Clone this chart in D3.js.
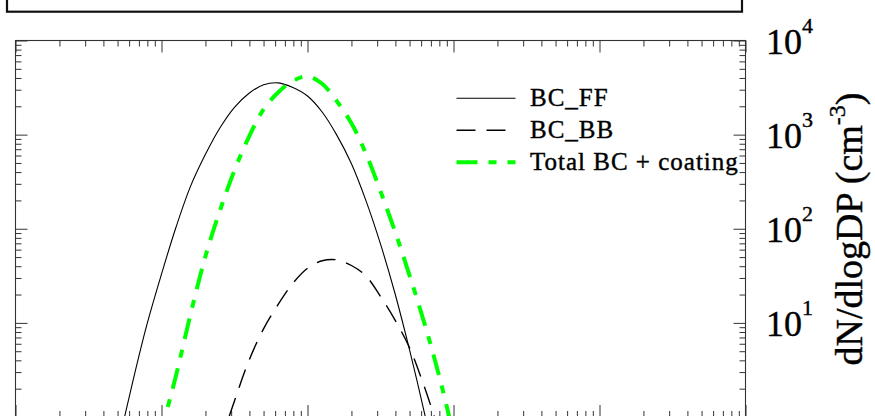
<!DOCTYPE html>
<html>
<head>
<meta charset="utf-8">
<script src="https://cdn.jsdelivr.net/npm/d3@7"></script>
<style>
  html, body { margin: 0; padding: 0; background: #fff; }
  svg { display: block; }
  text { font-family: "Liberation Serif", "Times New Roman", serif; fill: #000; stroke: #000; stroke-width: 0.4px; }
</style>
</head>
<body>
<svg id="chart" width="875" height="416"></svg>
<script>
// Particle diameter bins (nm), log-spaced
const diameters = [5.0, 6.3, 7.9, 10, 12.6, 15.8, 20, 25.1, 31.6, 39.8, 50.1, 63.1,
                   79.4, 100, 126, 158, 200, 251, 316, 398, 501, 631, 794, 1000];

// Number size distributions, dN/dlogDp (cm^-3)
const bcFF    = [0.47, 2.24, 9.3, 33, 105, 282, 617, 1175, 1950, 2754, 3388, 3548,
                 3162, 2570, 1738, 1000, 490, 200, 69, 20.4, 5.1, 1.12, 0.21, null];
const bcBB    = [null, null, null, null, null, null, null, 0.51, 1.48, 4.0, 8.7, 15.8,
                 26.3, 38, 45.7, 46.8, 40.7, 31.6, 19.1, 10.7, 5.4, 2.1, 0.72, null];
const totalBC = [null, null, 0.18, 0.72, 2.8, 12.3, 51, 155, 417, 955, 1862, 2818,
                 3715, 4169, 3467, 2291, 1318, 631, 251, 93, 31.6, 10, 2.8, 0.65];

const seriesNames = ["BC_FF", "BC_BB", "Total BC + coating"];
const yLabelValues = [10, 100, 1000, 10000];

const svg = d3.select("#chart");
const frame = { left: 15.5, right: 745.5, top: 40.5, bottom: 417 };

const x = d3.scaleLog().domain([1, 1e5]).range([frame.left, frame.right]);
const y = d3.scaleLog().domain([1, 1e4]).range([frame.bottom, frame.top]);

// major / minor tick positions on the log axes
function logTicks(lo, hi) {
  const major = [], minor = [];
  for (let p = Math.log10(lo); p <= Math.log10(hi); p++) {
    const base = Math.pow(10, p);
    major.push(base);
    if (p < Math.log10(hi)) for (let k = 2; k <= 9; k++) minor.push(k * base);
  }
  return { major, minor };
}
const xt = logTicks(1, 1e5);
const yt = logTicks(1, 1e4);

// frame of the panel above
svg.append("rect")
  .attr("x", 7).attr("y", -12).attr("width", 735).attr("height", 23.7)
  .attr("fill", "none").attr("stroke", "#111").attr("stroke-width", 2.2);

// plot frame
svg.append("rect")
  .attr("x", frame.left).attr("y", frame.top)
  .attr("width", frame.right - frame.left).attr("height", frame.bottom - frame.top)
  .attr("fill", "none").attr("stroke", "#333").attr("stroke-width", 1.1);

function styleAxis(g) {
  g.select(".domain").remove();
  g.selectAll(".tick line").attr("stroke", "#333").attr("stroke-width", 1);
}

// inward ticks on all four sides
const axisDefs = [
  [d3.axisBottom(x), `translate(0,${frame.bottom})`, xt],
  [d3.axisTop(x),    `translate(0,${frame.top})`,    xt],
  [d3.axisLeft(y),   `translate(${frame.left},0)`,   yt]
];
axisDefs.forEach(([axis, tr, t]) => {
  svg.append("g").attr("transform", tr)
    .call(axis.tickValues(t.major).tickSize(-12).tickFormat(""))
    .call(styleAxis);
  svg.append("g").attr("transform", tr)
    .call(axis.tickValues(t.minor).tickSize(-6).tickFormat(""))
    .call(styleAxis);
});

// right axis with power-of-ten labels
svg.append("g").attr("transform", `translate(${frame.right},0)`)
  .call(d3.axisRight(y).tickValues(yt.minor).tickSize(-6).tickFormat(""))
  .call(styleAxis);
const rightAxis = svg.append("g").attr("transform", `translate(${frame.right},0)`)
  .call(d3.axisRight(y).tickValues(yt.major).tickSize(-12).tickPadding(20.5))
  .call(styleAxis)
  .attr("font-size", 36)
  .attr("font-family", "Liberation Serif, Times New Roman, serif");
rightAxis.selectAll(".tick text")
  .attr("dy", "0.35em")
  .attr("fill", "#000")
  .each(function (d) {
    const t = d3.select(this).text(null);
    if (!yLabelValues.includes(d)) return;
    t.append("tspan").text("10");
    t.append("tspan").attr("dy", -21).attr("font-size", 22)
      .text(String(Math.round(Math.log10(d))));
  });

// y-axis title
const title = svg.append("text")
  .attr("transform", "translate(862,229) rotate(-90)")
  .attr("text-anchor", "middle")
  .attr("font-size", 38);
title.append("tspan").text("dN/dlogDP (cm");
title.append("tspan").attr("dy", -17).attr("font-size", 24).text("-3");
title.append("tspan").attr("dy", 17).text(")");

// curves
svg.append("clipPath").attr("id", "plot-clip")
  .append("rect")
  .attr("x", frame.left).attr("y", frame.top)
  .attr("width", frame.right - frame.left).attr("height", frame.bottom - frame.top);

const series = [
  { name: seriesNames[0], values: bcFF,    stroke: "#000",    width: 1.1, dash: null },
  { name: seriesNames[1], values: bcBB,    stroke: "#000",    width: 1.4, dash: "19,11" },
  { name: seriesNames[2], values: totalBC, stroke: "#00ff00", width: 4,   dash: "21,11,8,11" }
];

const line = d3.line()
  .defined(d => d.v != null)
  .x(d => x(d.d))
  .y(d => y(d.v))
  .curve(d3.curveCatmullRom.alpha(0.5));

svg.append("g").attr("clip-path", "url(#plot-clip)")
  .selectAll("path")
  .data(series)
  .join("path")
  .attr("d", s => line(diameters.map((d, i) => ({ d, v: s.values[i] }))
                              .filter(p => p.v != null)))
  .attr("fill", "none")
  .attr("stroke", s => s.stroke)
  .attr("stroke-width", s => s.width)
  .attr("stroke-dasharray", s => s.dash)
  .attr("stroke-linejoin", "round");

// legend
const legend = svg.append("g").selectAll("g")
  .data(series)
  .join("g")
  .attr("transform", (s, i) => `translate(0,${106 + i * 32})`);
legend.append("line")
  .attr("x1", 456.5).attr("x2", 515.5)
  .attr("y1", -7.7).attr("y2", -7.7)
  .attr("stroke", s => s.stroke)
  .attr("stroke-width", s => s.width)
  .attr("stroke-dasharray", s => s.dash);
legend.append("text")
  .attr("x", 530).attr("y", 0)
  .attr("font-size", 25)
  .attr("letter-spacing", 1)
  .text(s => s.name);
</script>
</body>
</html>
